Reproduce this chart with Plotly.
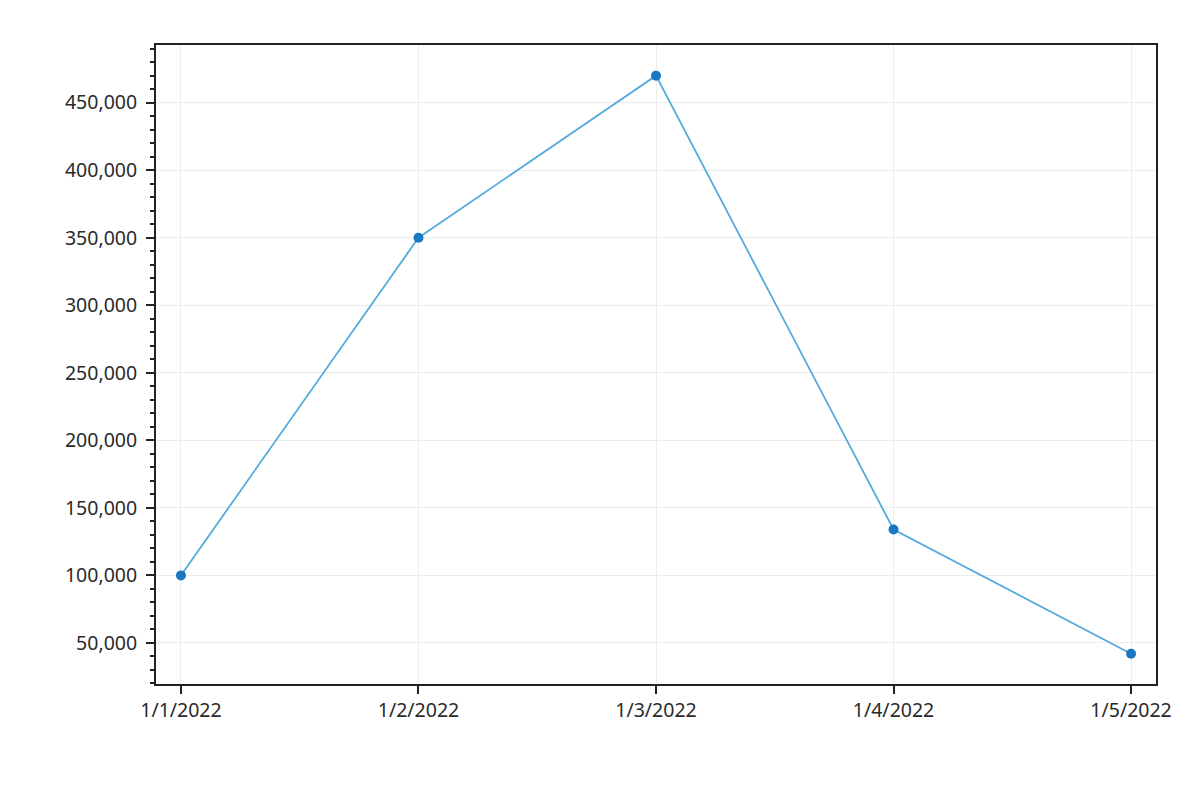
import plotly.graph_objects as go

dates = ["1/1/2022", "1/2/2022", "1/3/2022", "1/4/2022", "1/5/2022"]
values = [100000, 350000, 470000, 134000, 42000]
y_ticks = [50000, 100000, 150000, 200000, 250000, 300000, 350000, 400000, 450000]

fig = go.Figure()
fig.add_trace(go.Scatter(
    x=dates, y=values, mode="lines+markers",
    line=dict(color="#55aadd", width=1.8),
    marker=dict(color="#1a78c2", size=10),
    showlegend=False,
))

axis_common = dict(
    showline=True, linecolor="#222222", linewidth=2, mirror=True,
    ticks="outside", tickcolor="#222222", tickwidth=1.5, ticklen=8,
    showgrid=True, gridcolor="#ececec", gridwidth=1, zeroline=False,
    tickfont=dict(family="Noto Sans", size=19.5, color="#2a2a2a"),
)

fig.update_layout(
    width=1195, height=796,
    margin=dict(l=148, r=47, t=37, b=120),
    paper_bgcolor="white", plot_bgcolor="white",
    xaxis=dict(type="category", range=[-0.105, 4.105], **axis_common),
    yaxis=dict(range=[19600, 492700], tickvals=y_ticks, tickformat=",d",
               ticklabelstandoff=5,
               minor=dict(dtick=10000, tick0=0, ticks="outside", ticklen=4,
                          tickcolor="#222222", tickwidth=1.5, showgrid=False),
               **axis_common),
)

fig.write_html("out.html")
